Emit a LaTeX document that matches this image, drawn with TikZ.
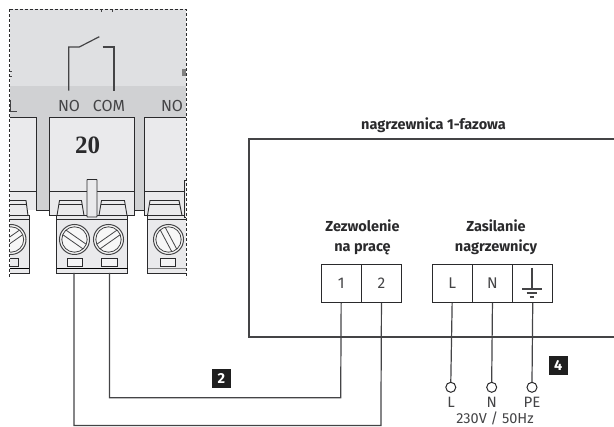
\documentclass[tikz,border=0pt]{standalone}
\usepackage{fontspec}
\setmainfont{Fira Sans}
\newfontfamily\serifbold{Liberation Serif}
\definecolor{ink}{HTML}{444446}
\definecolor{dark}{HTML}{2A2A2C}
\definecolor{bgA}{HTML}{DFE0E2}
\definecolor{bgB}{HTML}{D0D1D3}
\definecolor{boxc}{HTML}{EAEAEC}
\tikzset{
 x=1pt,y=-1pt,
 line/.style={draw=ink,line width=1.2pt},
 term/.style={draw=dark,line width=1pt,minimum width=40.3pt,minimum height=38pt,inner sep=0pt,font=\fontsize{15.5}{16}\selectfont,text=ink,anchor=north west},
 lab/.style={font=\fontsize{15}{16}\selectfont,text=ink,inner sep=0pt},
 head/.style={font=\fontsize{14.5}{20}\selectfont\bfseries,text=dark,align=center,inner sep=0pt},
 badge/.style={fill=black!88,text=white,font=\fontsize{14.5}{15}\selectfont\bfseries,minimum size=18.7pt,inner sep=0pt},
 ring/.style={circle,draw=dark,line width=1pt,fill=white,minimum size=10pt,inner sep=0pt},
 block/.style={fill=boxc,draw=dark,line width=.9pt},
}
\newcommand{\screw}[3]{%
 \begin{scope}[shift={(#1,#2)}]
 \fill[white!60!boxc,draw=ink,line width=1pt] (0,0) circle (15);
 \draw[ink,line width=.8pt] (0,0) circle (12.7);
 \begin{scope}[rotate=#3]
 \draw[ink,line width=.8pt] (-12.4,-2.8) -- (12.4,-2.8) (-12.4,2.8) -- (12.4,2.8);
 \end{scope}
 \end{scope}}
\begin{document}
\begin{tikzpicture}
\useasboundingbox (0,0) rectangle (614,427);
% module background
\fill[bgA] (9.5,9.5) rectangle (186,86);
\fill[bgB] (9.5,86) rectangle (186,210);
% boxes
\fill[boxc] (9.5,117) rectangle (36,210);
\draw[dark,line width=.9pt] (9.5,117) -- (36,117) -- (36,210) -- (49,210);
\draw[dark,line width=.9pt] (9.5,191) -- (36,191);
\draw[block] (49,117) rectangle (134.5,215.5);
\draw[dark,line width=.9pt] (49,191) -- (134.5,191);
\fill[boxc] (144.5,117) rectangle (186,215.5);
\draw[dark,line width=.9pt] (134.5,210) -- (144.5,210);
\draw[dark,line width=.9pt] (186,117) -- (144.5,117) -- (144.5,215.5) -- (186,215.5);
\draw[dark,line width=.9pt] (144.5,191) -- (186,191);
% relay contact
\coordinate (no) at (68.7,90.7);
\coordinate (com) at (114,90.7);
\draw[line] (no) -- (68.7,47) -- (79.3,47) -- (99.3,36.7);
\draw[line] (102.7,47) -- (114,47) -- (com);
\node[lab,font=\fontsize{16}{16}\selectfont] at (69,106) {NO};
\node[lab,font=\fontsize{16}{16}\selectfont] at (109,106) {COM};
\node[lab,font=\fontsize{16}{16}\selectfont] at (172,106) {NO};
\draw[ink,line width=1pt] (10,100) -- (10,111.5) -- (16.7,111.5);
\fill[gray] (182,69.5) rectangle (186,76);
\draw[ink,line width=.7pt] (9.5,71) -- (12,71) (9.5,76) -- (12,76);
\draw[ink,line width=.7pt] (101,9.5) -- (101,12) (112,9.5) -- (112,12);
% trapezoid caps
\foreach \a/\b in {57/84,99/127}{
 \draw[block] (\a,215.5) -- (\a+2.5,200.5) -- (\b-2.5,200.5) -- (\b,215.5) -- cycle;
 \draw[dark,line width=.8pt] (\a+2,204) -- (\b-2,204);
}
\draw[block] (147.5,215.5) -- (150,200.5) -- (179,200.5) -- (182,215.5) -- cycle;
\draw[dark,line width=.8pt] (149.5,204) -- (180,204);
\draw[block] (9.5,200.5) -- (26,200.5) -- (28,215.5) -- (9.5,215.5);
\draw[dark,line width=.8pt] (9.5,204) -- (27,204);
% terminal blocks
\draw[block] (56.5,215.5) rectangle (127.5,273);
\draw[block] (9.5,215.5) -- (29,215.5) -- (29,273) -- (9.5,273);
\draw[block] (186,215.5) -- (147.5,215.5) -- (147.5,273) -- (186,273);
\draw[dark,line width=.8pt] (56.5,219.5) -- (127.5,219.5);
\draw[dark,line width=.8pt] (9.5,219.5) -- (29,219.5);
\draw[dark,line width=.8pt] (147.5,219.5) -- (186,219.5);
\draw[black,line width=1.6pt] (56.5,268.5) -- (127.5,268.5);
\draw[black,line width=1.6pt] (9.5,268.5) -- (29,268.5);
\draw[gray,line width=1.6pt] (147.5,268.5) -- (186,268.5);
\screw{74.5}{239.5}{-35}
\screw{108.5}{239.5}{35}
\screw{168.5}{239.5}{-62}
\begin{scope}
\clip (9.5,210) rectangle (29,270);
\screw{11}{239.5}{35}
\end{scope}
\draw[block,fill=white!50!boxc] (67,258) rectangle (82.5,266);
\draw[block,fill=white!50!boxc] (101.5,258) rectangle (117,266);
\draw[block,fill=white!50!boxc] (160.5,258) rectangle (175.5,266);
\draw[dark,line width=.9pt] (9.5,258) -- (18.5,258) -- (18.5,266) -- (9.5,266);
% tab
\draw[block,rounded corners=.6pt] (87,179.5) rectangle (97,217);
\draw[dark,line width=.9pt,fill=boxc] (186,180) -- (184.5,180) -- (184.5,217) -- (186,217);
% dashed frame
\draw[dark,line width=.8pt,dash pattern=on 3pt off 2pt] (9.5,9.5) -- (186,9.5) -- (186,278);
\draw[dark,line width=.8pt,dash pattern=on 3pt off 2pt] (9.5,9.5) -- (9.5,278);
\node[font=\serifbold\bfseries\fontsize{25}{25}\selectfont,text=dark,inner sep=0pt] at (87.5,145) {20};
% heater box
\draw[line] (614,139) -- (249,139) -- (249,337) -- (614,337);
\node[head] at (433.5,125) {nagrzewnica 1-fazowa};
\node[head] at (362.5,237) {Zezwolenie\\na pracę};
\node[head] at (496,237) {Zasilanie\\nagrzewnicy};
\node[term] (t1) at (320.5,264) {1};
\node[term] (t2) at (360.8,264) {2};
\node[term] (tL) at (431.5,264) {L};
\node[term] (tN) at (471.8,264) {N};
\node[term] (tPE) at (512.1,264) {};
% earth symbol
\draw[line] (531.9,268) -- (531.9,289) (522,289) -- (542,289);
\draw[line] (526.7,293) -- (537.3,293) (529.5,297) -- (534,297);
% supply
\node[ring] (rL) at (450.8,387.3) {};
\node[ring] (rN) at (491.7,387.3) {};
\node[ring] (rPE) at (532,387.3) {};
\draw[line] (tL.south) -- (rL.north);
\draw[line] (tN.south) -- (rN.north);
\draw[line] (tPE.south) -- (rPE.north);
\node[lab] at (451,402.2) {L};
\node[lab] at (491.7,402.2) {N};
\node[lab] at (532,402.2) {PE};
\node[lab,font=\fontsize{14.5}{15}\selectfont] at (495,418.8) {230V / 50Hz};
% wires
\coordinate (wa) at (74,273);
\coordinate (wb) at (109.5,273);
\draw[line] (wb) |- (340.7,397.7) -- (t1.south);
\draw[line] (wa) |- (380.9,425.5) -- (t2.south);
\node[badge] at (221.3,378.5) {2};
\node[badge] at (558.3,365.3) {4};
\end{tikzpicture}
\end{document}
